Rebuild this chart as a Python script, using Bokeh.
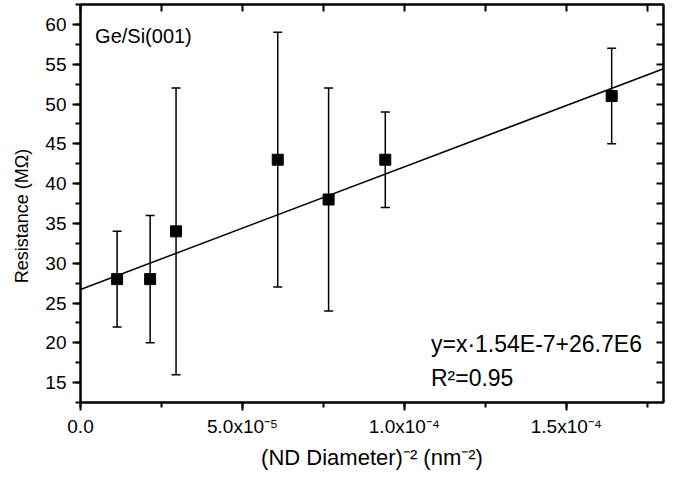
import numpy as np
from bokeh.plotting import figure
from bokeh.models import (Range1d, LinearAxis, Whisker, TeeHead, ColumnDataSource, Label,
                          SingleIntervalTicker, FixedTicker, CustomJSTickFormatter)
from bokeh.embed import file_html
from bokeh.resources import INLINE

# ---- data ----
inv_d2 = [1.13e-5, 2.15e-5, 2.95e-5, 6.09e-5, 7.66e-5, 9.41e-5, 1.64e-4]   # (ND diameter)^-2, nm^-2
resistance = [28, 28, 34, 43, 38, 43, 51]                                 # MOhm
err_low = [22, 20, 16, 27, 24, 37, 45]
err_high = [34, 36, 52, 59, 52, 49, 57]
fit_slope = 1.54e5        # MOhm per nm^-2
fit_intercept = 26.7      # MOhm
x_limits = [0.0, 1.8e-4]
y_limits = [12.5, 62.5]
x_major_step = 5e-5
y_major_step = 5
sample_label = "Ge/Si(001)"
fit_label = "y=x\u00b71.54E-7+26.7E6"
r2_label = "R\u00b2=0.95"
y_title = "Resistance (M\u03a9)"
x_title = "(ND Diameter)\u207b\u00b2 (nm\u207b\u00b2)"

FONT = "Liberation Sans"

p = figure(width=666, height=472, output_backend="svg", toolbar_location=None,
           x_range=Range1d(*x_limits), y_range=Range1d(*y_limits),
           min_border_left=80, min_border_right=3, min_border_top=4, min_border_bottom=0)
p.xgrid.visible = False
p.ygrid.visible = False
p.outline_line_color = "black"
p.outline_line_width = 2
p.background_fill_color = "white"
p.border_fill_color = "white"

fmt = CustomJSTickFormatter(code="""
if (Math.abs(tick) < 1e-12) return "0.0";
const e = Math.floor(Math.log10(Math.abs(tick)) + 1e-9);
const m = tick / Math.pow(10, e);
const sup = {"-":"\u207b","0":"\u2070","1":"\u00b9","2":"\u00b2","3":"\u00b3","4":"\u2074","5":"\u2075","6":"\u2076","7":"\u2077","8":"\u2078","9":"\u2079"};
let s = "";
for (const ch of String(e)) s += sup[ch];
return m.toFixed(1) + "x10" + s;
""")

xa = p.xaxis[0]
xa.ticker = SingleIntervalTicker(interval=x_major_step, num_minor_ticks=2)
xa.formatter = fmt
xa.axis_label = x_title
ya = p.yaxis[0]
ya.ticker = SingleIntervalTicker(interval=y_major_step, num_minor_ticks=2)
# trailing no-break spaces nudge the centred title slightly below the frame centre, as in the reference
ya.axis_label = y_title + "\u00a0" * 5

for ax in (xa, ya):
    ax.axis_line_width = 2
    ax.major_tick_line_width = 2
    ax.minor_tick_line_width = 2
    ax.major_tick_in = 0
    ax.minor_tick_in = 0
    ax.major_tick_out = 8
    ax.minor_tick_out = 5
    ax.major_label_text_font = FONT
    ax.major_label_text_font_size = "19px"
    ax.major_label_text_color = "black"
    ax.axis_label_text_font = FONT
    ax.axis_label_text_font_style = "normal"
    ax.axis_label_text_color = "black"
xa.axis_label_text_font_size = "22px"
ya.axis_label_text_font_size = "18px"
xa.major_label_standoff = 5
xa.axis_label_standoff = 5
ya.major_label_standoff = 6
ya.axis_label_standoff = 10

# inner ticks on the top and right edges (tick marks only, no labels)
top_ticks = list(np.arange(x_limits[0], x_limits[1] + 1e-12, x_major_step / 2))
right_ticks = list(np.arange(15, y_limits[1], y_major_step / 2))
top = LinearAxis(ticker=FixedTicker(ticks=[], minor_ticks=top_ticks))
right = LinearAxis(ticker=FixedTicker(ticks=[], minor_ticks=right_ticks))
for ax in (top, right):
    ax.axis_line_width = 2
    ax.minor_tick_line_width = 2
    ax.major_tick_out = 0
    ax.minor_tick_out = 0
    ax.major_tick_in = 0
    ax.minor_tick_in = 7
    ax.major_label_standoff = 0
p.add_layout(top, "above")
p.add_layout(right, "right")

src = ColumnDataSource(dict(x=inv_d2, y=resistance, lo=err_low, hi=err_high))

# fit line across the x range
fit_x = list(x_limits)
fit_y = [fit_intercept + fit_slope * v for v in fit_x]
p.line(fit_x, fit_y, line_color="black", line_width=1.5)

p.add_layout(Whisker(source=src, base="x", lower="lo", upper="hi",
                     line_color="black", line_width=1.5,
                     lower_head=TeeHead(size=9, line_color="black", line_width=1.5),
                     upper_head=TeeHead(size=9, line_color="black", line_width=1.5)))
p.scatter("x", "y", source=src, marker="square", size=11, fill_color="black", line_color="black")

p.add_layout(Label(x=0.45e-5, y=59.9, text=sample_label, text_font=FONT, text_font_size="20px",
                   text_baseline="top", text_color="black"))
p.add_layout(Label(x=1.082e-4, y=19.8, text=fit_label, text_font=FONT, text_font_size="23px",
                   text_baseline="alphabetic", text_color="black"))
p.add_layout(Label(x=1.082e-4, y=15.6, text=r2_label, text_font=FONT, text_font_size="23px",
                   text_baseline="alphabetic", text_color="black"))

open("out.html", "w", encoding="utf-8").write(file_html(p, INLINE))
